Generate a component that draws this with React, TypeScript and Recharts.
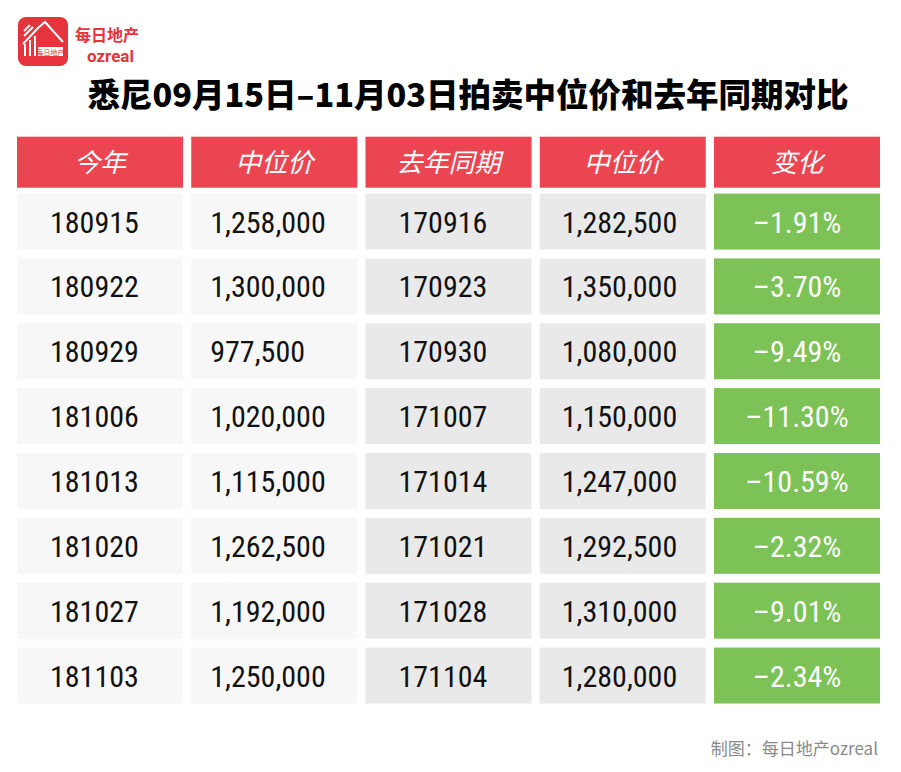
import { BarChart, Bar, XAxis, YAxis, Customized } from "recharts";

// table contents
const headers = ["今年", "中位价", "去年同期", "中位价", "变化"];
const thisYear = ["180915", "180922", "180929", "181006", "181013", "181020", "181027", "181103"];
const thisYearMedian = [1258000, 1300000, 977500, 1020000, 1115000, 1262500, 1192000, 1250000];
const lastYear = ["170916", "170923", "170930", "171007", "171014", "171021", "171028", "171104"];
const lastYearMedian = [1282500, 1350000, 1080000, 1150000, 1247000, 1292500, 1310000, 1280000];
const change = [-1.91, -3.7, -9.49, -11.3, -10.59, -2.32, -9.01, -2.34];

const fmtNum = (n: number) => n.toLocaleString("en-US");
const fmtPct = (n: number) => (n < 0 ? "–" : "") + Math.abs(n).toFixed(2) + "%";

const rows = [
  { key: "header", texts: headers, c0: 1, c1: 1, c2: 1, c3: 1, c4: 1 },
  ...thisYear.map((d, i) => ({
    key: d,
    texts: [d, fmtNum(thisYearMedian[i]), lastYear[i], fmtNum(lastYearMedian[i]), fmtPct(change[i])],
    c0: 1,
    c1: 1,
    c2: 1,
    c3: 1,
    c4: 1,
  })),
];

const RED = "#ec4552";
const GREEN = "#7cc256";
const CELL_FILLS = ["#f7f7f7", "#f7f7f7", "#e9e9e9", "#e9e9e9", GREEN];
const NUM_FONT = "'Liberation Sans Narrow', 'Arial Narrow', 'Roboto Condensed', Roboto, sans-serif";
const CJK_FONT = "'Noto Sans CJK SC', 'Noto Sans', sans-serif";
const GAP = 8.25;

// where text sits inside each column: anchor + left padding
const TEXT_POS: { anchor: "start" | "middle"; pad: number }[] = [
  { anchor: "start", pad: 33 },
  { anchor: "start", pad: 19 },
  { anchor: "start", pad: 33 },
  { anchor: "start", pad: 22 },
  { anchor: "middle", pad: 0 },
];

function makeCell(col: number) {
  return (props: any) => {
    const { x, y, width, height, index, payload } = props;
    const isHead = index === 0;
    const ry = isHead ? y + 8 : y;
    const rh = isHead ? 51 : height;
    const w = width - GAP;
    const text = payload.texts[col];
    if (isHead) {
      return (
        <g>
          <rect x={x} y={ry} width={w} height={rh} fill={RED} />
          <text
            x={x + w / 2}
            y={ry + 35}
            textAnchor="middle"
            fill="#fff"
            fontSize={26}
            fontStyle="italic"
            fontFamily={CJK_FONT}
          >
            {text}
          </text>
        </g>
      );
    }
    const pos = TEXT_POS[col];
    return (
      <g>
        <rect x={x} y={ry} width={w} height={rh} fill={CELL_FILLS[col]} />
        <text
          x={pos.anchor === "middle" ? x + w / 2 : x + pos.pad}
          y={ry + 39}
          textAnchor={pos.anchor}
          fill={col === 4 ? "#fff" : "#111"}
          fontSize={30}
          fontFamily={NUM_FONT}
        >
          {text}
        </text>
      </g>
    );
  };
}

function Decor() {
  return (
    <g>
      {/* logo */}
      <rect x={18} y={17} width={50} height={49} rx={8} fill="#e7333b" />
      <g stroke="#fff" strokeWidth={2} fill="none">
        <polyline points="23,44 38,28 45,22 63,42" />
        <line x1={24} y1={36} x2={33} y2={27} />
        <line x1={24} y1={31} x2={30} y2={25} />
        <line x1={25} y1={44} x2={25} y2={56} />
        <line x1={30} y1={40} x2={30} y2={56} />
        <line x1={35} y1={36} x2={35} y2={56} />
      </g>
      <rect x={38} y={47} width={25} height={9} fill="#fff" />
      <text x={50.5} y={55} textAnchor="middle" fontSize={7} fill="#e7333b" fontFamily={CJK_FONT}>
        每日地产
      </text>
      <text x={75} y={41} fontSize={16} fill="#e7333b" fontFamily={CJK_FONT} fontWeight={700}>
        每日地产
      </text>
      <text x={87} y={61.5} fontSize={17} fill="#e7333b" fontFamily="Roboto, sans-serif" fontWeight={700}>
        ozreal
      </text>
      {/* title */}
      <text
        x={468}
        y={107}
        textAnchor="middle"
        fontSize={32.5}
        fontWeight={900}
        fill="#000"
        fontFamily={CJK_FONT}
      >
        悉尼09月15日–11月03日拍卖中位价和去年同期对比
      </text>
      {/* footer */}
      <text x={878} y={755} textAnchor="end" fontSize={17} fill="#8a8a8a" fontFamily={CJK_FONT}>
        制图：每日地产ozreal
      </text>
    </g>
  );
}

export default function App() {
  return (
    <div style={{ position: "absolute", left: 0, top: 0, width: 901, height: 772, background: "#fff" }}>
      <BarChart
        width={901}
        height={772}
        data={rows}
        layout="vertical"
        margin={{ top: 124.7, right: 12.75, bottom: 63.6, left: 17 }}
        barSize={56}
      >
        <XAxis type="number" domain={[0, 5]} hide />
        <YAxis type="category" dataKey="key" hide />
        {[0, 1, 2, 3, 4].map((c) => (
          <Bar
            key={c}
            dataKey={`c${c}`}
            stackId="t"
            shape={makeCell(c)}
            isAnimationActive={false}
          />
        ))}
        <Customized component={Decor} />
      </BarChart>
    </div>
  );
}
